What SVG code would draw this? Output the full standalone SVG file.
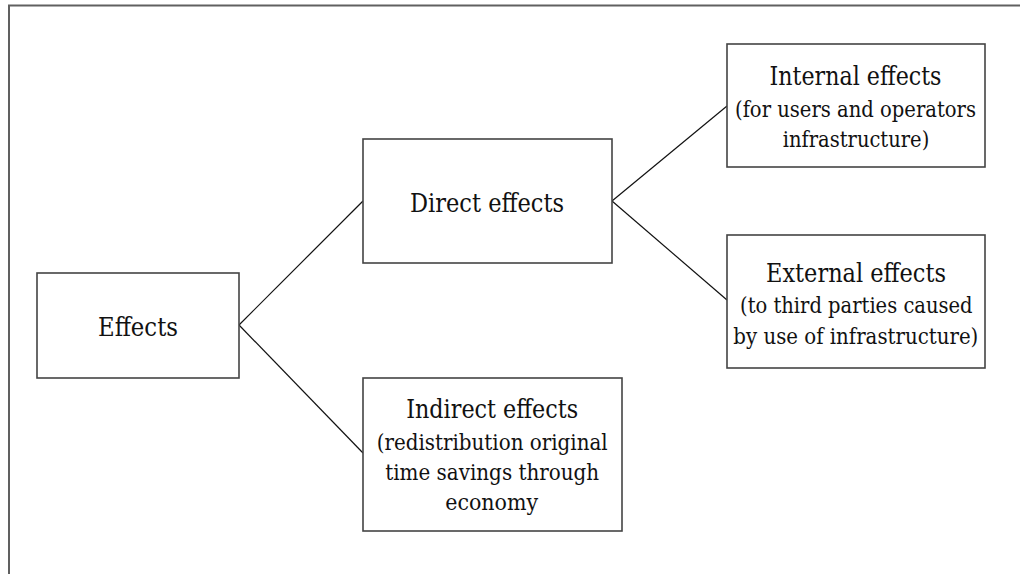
<svg xmlns="http://www.w3.org/2000/svg" width="1020" height="574" viewBox="0 0 1020 574">
<style>
.box{fill:#fff;stroke:#444;stroke-width:1.6}
text{font-family:'DejaVu Serif',serif;fill:#111;text-anchor:middle}
.h{font-size:25.5px}
.s{font-size:23px}
.c{stroke:#111;stroke-width:1.2;fill:none}
</style>
<rect width="1020" height="574" fill="#fff"/>
<path d="M9 574 V5.5 H1020" fill="none" stroke="#606060" stroke-width="2"/>
<g id="connectors">
<line class="c" x1="239" y1="325" x2="363" y2="201"/>
<line class="c" x1="239" y1="325" x2="363" y2="453"/>
<line class="c" x1="612" y1="201" x2="727" y2="106"/>
<line class="c" x1="612" y1="201" x2="727" y2="300"/>
</g>
<g id="effects">
<rect class="box" x="37" y="273" width="202" height="105"/>
<text class="h" x="138" y="336" textLength="80" lengthAdjust="spacingAndGlyphs">Effects</text>
</g>
<g id="direct">
<rect class="box" x="363" y="139" width="249" height="124"/>
<text class="h" x="487" y="212" textLength="154" lengthAdjust="spacingAndGlyphs">Direct effects</text>
</g>
<g id="internal">
<rect class="box" x="727" y="44" width="258" height="123"/>
<text class="h" x="855.5" y="85" textLength="172" lengthAdjust="spacingAndGlyphs">Internal effects</text>
<text class="s" x="855.5" y="116.5" textLength="241" lengthAdjust="spacingAndGlyphs">(for users and operators</text>
<text class="s" x="856" y="146.5" textLength="146.5" lengthAdjust="spacingAndGlyphs">infrastructure)</text>
</g>
<g id="external">
<rect class="box" x="727" y="235" width="258" height="133"/>
<text class="h" x="856" y="281.5" textLength="180" lengthAdjust="spacingAndGlyphs">External effects</text>
<text class="s" x="856.3" y="313" textLength="232.5" lengthAdjust="spacingAndGlyphs">(to third parties caused</text>
<text class="s" x="855.8" y="344" textLength="245" lengthAdjust="spacingAndGlyphs">by use of infrastructure)</text>
</g>
<g id="indirect">
<rect class="box" x="363" y="378" width="259" height="153"/>
<text class="h" x="492.2" y="418" textLength="172" lengthAdjust="spacingAndGlyphs">Indirect effects</text>
<text class="s" x="492.2" y="450" textLength="231" lengthAdjust="spacingAndGlyphs">(redistribution original</text>
<text class="s" x="492.2" y="480" textLength="214" lengthAdjust="spacingAndGlyphs">time savings through</text>
<text class="s" x="491.7" y="510" textLength="93" lengthAdjust="spacingAndGlyphs">economy</text>
</g>
</svg>
